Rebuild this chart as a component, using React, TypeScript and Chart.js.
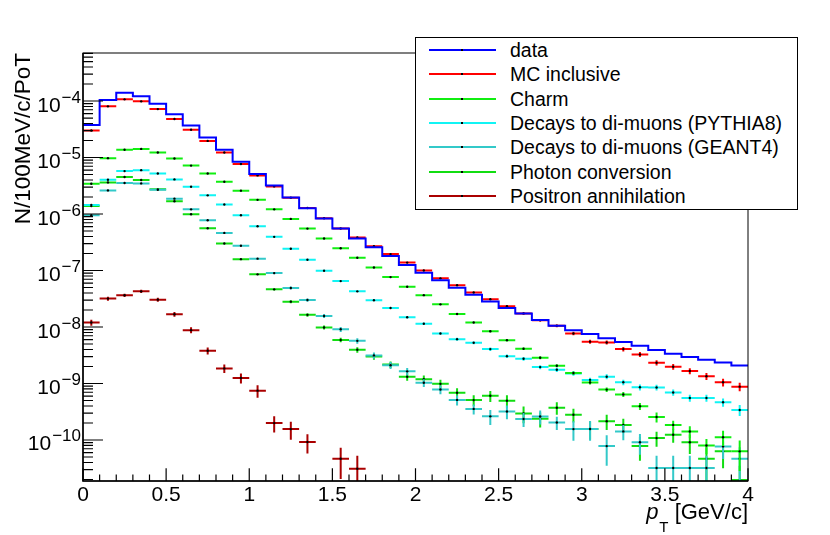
import { useEffect, useRef } from 'react';
import {
  Chart,
  LineController,
  LineElement,
  PointElement,
  LinearScale,
  LogarithmicScale,
} from 'chart.js';

Chart.register(LineController, LineElement, PointElement, LinearScale, LogarithmicScale);

const FONT = "'Liberation Sans', Arial, Helvetica, sans-serif";

// pT bin edges [GeV/c]
const binEdges = [
  0, 0.1, 0.2, 0.3, 0.4, 0.5, 0.6, 0.7, 0.8, 0.9, 1.0, 1.1, 1.2, 1.3, 1.4, 1.5, 1.6, 1.7, 1.8, 1.9, 2.0,
  2.1, 2.2, 2.3, 2.4, 2.5, 2.6, 2.7, 2.8, 2.9, 3.0, 3.1, 3.2, 3.3, 3.4, 3.5, 3.6, 3.7, 3.8, 3.9, 4.0,
];

const xTickLabels = ['0', '0.5', '1', '1.5', '2', '2.5', '3', '3.5', '4'];
const yTickExponents = [-10, -9, -8, -7, -6, -5, -4];
const Y_MIN = 1.88e-11;
const Y_MAX = 7.08e-4;

const dataHist = [
  3.77e-5, 1.04e-4, 1.4e-4, 1.22e-4, 8.97e-5, 5.82e-5, 3.67e-5, 2.26e-5, 1.37e-5, 8.4e-6,
  5.1e-6, 3.2e-6, 1.97e-6, 1.27e-6, 8.35e-7, 5.52e-7, 3.68e-7, 2.59e-7, 1.8e-7, 1.25e-7,
  9.1e-8, 6.7e-8, 4.93e-8, 3.73e-8, 2.83e-8, 2.18e-8, 1.74e-8, 1.33e-8, 1.055e-8, 8.8e-9,
  7.55e-9, 6.35e-9, 5.4e-9, 4.65e-9, 3.9e-9, 3.36e-9, 2.93e-9, 2.63e-9, 2.36e-9, 2.09e-9,
];

const mcInclusive = [
  3.0e-5, 8.05e-5, 1.07e-4, 9.87e-5, 7.2e-5, 4.8e-5, 3.1e-5, 1.97e-5, 1.23e-5, 7.66e-6,
  4.82e-6, 3.08e-6, 1.95e-6, 1.28e-6, 8.4e-7, 5.55e-7, 3.84e-7, 2.7e-7, 1.95e-7, 1.38e-7,
  1.0e-7, 7.26e-8, 5.5e-8, 4.08e-8, 3.09e-8, 2.33e-8, 1.74e-8, 1.32e-8, 1.05e-8, 7.67e-9,
  5.5e-9, 5.32e-9, 4.06e-9, 3.27e-9, 2.33e-9, 1.98e-9, 1.66e-9, 1.34e-9, 1.05e-9, 8.8e-10,
];
const mcRelErr = [
  0.01, 0.01, 0.01, 0.01, 0.01, 0.01, 0.01, 0.01, 0.01, 0.01,
  0.01, 0.01, 0.01, 0.02, 0.02, 0.02, 0.02, 0.02, 0.03, 0.03,
  0.03, 0.03, 0.04, 0.04, 0.04, 0.05, 0.05, 0.05, 0.06, 0.07,
  0.08, 0.08, 0.09, 0.1, 0.11, 0.12, 0.12, 0.14, 0.16, 0.17,
];

const charm = [
  3.43e-6, 9.75e-6, 1.37e-5, 1.42e-5, 1.23e-5, 9.6e-6, 7.2e-6, 5.22e-6, 3.73e-6, 2.59e-6,
  1.78e-6, 1.21e-6, 8.2e-7, 5.52e-7, 3.68e-7, 2.48e-7, 1.68e-7, 1.13e-7, 7.65e-8, 5.17e-8,
  3.66e-8, 2.52e-8, 1.7e-8, 1.2e-8, 8.43e-9, 5.85e-9, 4.11e-9, 2.85e-9, 2.06e-9, 1.53e-9,
  1.04e-9, 7.8e-10, 6.4e-10, 3.96e-10, 2.55e-10, 1.85e-10, 1.41e-10, 8.0e-11, 1.12e-10, 6.3e-11,
];
const charmRelErr = [
  0.02, 0.01, 0.01, 0.01, 0.01, 0.01, 0.01, 0.01, 0.01, 0.01,
  0.01, 0.01, 0.02, 0.02, 0.02, 0.02, 0.02, 0.03, 0.03, 0.03,
  0.03, 0.04, 0.04, 0.04, 0.05, 0.05, 0.05, 0.06, 0.06, 0.07,
  0.08, 0.09, 0.1, 0.14, 0.2, 0.18, 0.24, 0.3, 0.3, 0.55,
];

const decaysPythia = [
  1.45e-6, 4.05e-6, 5.75e-6, 5.98e-6, 5.22e-6, 4.1e-6, 3.04e-6, 2.14e-6, 1.47e-6, 9.5e-7,
  6.07e-7, 3.94e-7, 2.42e-7, 1.55e-7, 9.9e-8, 6.5e-8, 4.28e-8, 2.97e-8, 2.17e-8, 1.49e-8,
  1.14e-8, 7.67e-9, 6.09e-9, 5.25e-9, 4.06e-9, 3.05e-9, 2.74e-9, 1.95e-9, 1.75e-9, 1.51e-9,
  1.15e-9, 1.32e-9, 1.05e-9, 8.57e-10, 8.5e-10, 6.95e-10, 5.55e-10, 5.55e-10, 4.66e-10, 3.4e-10,
];
const pythiaRelErr = [
  0.02, 0.01, 0.01, 0.01, 0.01, 0.01, 0.01, 0.01, 0.01, 0.02,
  0.02, 0.02, 0.02, 0.03, 0.03, 0.03, 0.04, 0.04, 0.04, 0.05,
  0.05, 0.05, 0.06, 0.06, 0.07, 0.07, 0.08, 0.08, 0.09, 0.09,
  0.1, 0.1, 0.11, 0.12, 0.12, 0.13, 0.14, 0.14, 0.17, 0.22,
];

const decaysGeant = [
  9.5e-7, 2.62e-6, 3.53e-6, 3.48e-6, 2.69e-6, 1.87e-6, 1.21e-6, 7.75e-7, 4.63e-7, 2.74e-7,
  1.62e-7, 9.0e-8, 4.9e-8, 3.0e-8, 1.57e-8, 9.1e-9, 5.69e-9, 3.14e-9, 2.1e-9, 1.64e-9,
  1.03e-9, 7.85e-10, 5.12e-10, 3.55e-10, 2.62e-10, 3.2e-10, 2.35e-10, 2.6e-10, 2.04e-10, 1.56e-10,
  1.57e-10, 7.8e-11, 1.42e-10, 9.1e-11, 3.2e-11, 3.2e-11, 3.2e-11, 3.2e-11, 7.7e-11, 4.65e-11,
];
const geantRelErr = [
  0.02, 0.01, 0.01, 0.01, 0.01, 0.02, 0.02, 0.02, 0.03, 0.03,
  0.04, 0.05, 0.06, 0.07, 0.08, 0.1, 0.11, 0.13, 0.14, 0.15,
  0.16, 0.18, 0.2, 0.2, 0.3, 0.27, 0.28, 0.28, 0.26, 0.38,
  0.38, 0.55, 0.3, 0.4, 0.65, 0.65, 0.65, 0.65, 0.4, 0.6,
];

const photonConv = [
  1.38e-6, 3.63e-6, 4.51e-6, 3.99e-6, 2.73e-6, 1.68e-6, 9.9e-7, 5.6e-7, 3.0e-7, 1.59e-7,
  8.55e-8, 4.64e-8, 2.81e-8, 1.64e-8, 9.8e-9, 5.9e-9, 3.95e-9, 3.0e-9, 2.17e-9, 1.32e-9,
  1.19e-9, 9.85e-10, 6.85e-10, 5.08e-10, 6.06e-10, 4.94e-10, 2.94e-10, 2.37e-10, 3.72e-10, 2.8e-10,
  1.57e-10, 2.15e-10, 1.85e-10, 7.8e-11, 1.08e-10, 1.24e-10, 9.1e-11, 4.65e-11, 6.3e-11, 1.95e-11,
];
const photonRelErr = [
  0.02, 0.01, 0.01, 0.01, 0.01, 0.02, 0.02, 0.02, 0.03, 0.03,
  0.04, 0.05, 0.06, 0.07, 0.08, 0.09, 0.11, 0.12, 0.13, 0.15,
  0.17, 0.18, 0.2, 0.22, 0.22, 0.25, 0.33, 0.3, 0.25, 0.27,
  0.35, 0.3, 0.28, 0.45, 0.3, 0.28, 0.38, 0.6, 0.5, 0.8,
];

const positronAnn: (number | null)[] = [
  1.2e-8, 3.18e-8, 3.64e-8, 4.28e-8, 3.05e-8, 1.68e-8, 8.8e-9, 3.8e-9, 1.85e-9, 1.25e-9,
  7.47e-10, 1.99e-10, 1.56e-10, 9.2e-11, null, 4.65e-11, 3.1e-11, null, null, null,
  null, null, null, null, null, null, null, null, null, null,
  null, null, null, null, null, null, null, null, null, null,
];
const positronRelErr = [
  0.12, 0.08, 0.07, 0.07, 0.08, 0.1, 0.12, 0.14, 0.17, 0.2,
  0.25, 0.32, 0.35, 0.37, 0, 0.56, 0.7, 0, 0, 0,
  0, 0, 0, 0, 0, 0, 0, 0, 0, 0,
  0, 0, 0, 0, 0, 0, 0, 0, 0, 0,
];

interface Series {
  label: string;
  color: string;
  values: (number | null)[];
  relErr?: number[];
}

const series: Series[] = [
  { label: 'data', color: '#0000ff', values: dataHist },
  { label: 'MC inclusive', color: '#ff0000', values: mcInclusive, relErr: mcRelErr },
  { label: 'Charm', color: '#11ee11', values: charm, relErr: charmRelErr },
  { label: 'Decays to di-muons (PYTHIA8)', color: '#11f4f4', values: decaysPythia, relErr: pythiaRelErr },
  { label: 'Decays to di-muons (GEANT4)', color: '#33c9c9', values: decaysGeant, relErr: geantRelErr },
  { label: 'Photon conversion', color: '#11dd11', values: photonConv, relErr: photonRelErr },
  { label: 'Positron annihilation', color: '#aa0000', values: positronAnn, relErr: positronRelErr },
];

type Pt = { x: number; y: number | null; m?: boolean };

// histogram outline: flat top over each bin
function histSteps(values: (number | null)[]): Pt[] {
  return values.flatMap((v, i) => [
    { x: binEdges[i], y: v },
    { x: binEdges[i + 1], y: v },
  ]);
}

// ROOT "E" style: horizontal bar over the bin, vertical bar for the error, dot marker
function errorCrosses(values: (number | null)[], relErr: number[]): Pt[] {
  const pts: Pt[] = [];
  values.forEach((v, i) => {
    if (v === null) return;
    const lo = binEdges[i];
    const hi = binEdges[i + 1];
    const c = (lo + hi) / 2;
    const e = v * relErr[i];
    pts.push({ x: lo, y: v }, { x: c, y: v, m: true }, { x: hi, y: v }, { x: hi, y: null });
    if (e > 0) {
      pts.push({ x: c, y: Math.max(v - e, 1e-15) }, { x: c, y: v + e }, { x: c, y: null });
    }
  });
  return pts;
}

const rootAxes = {
  id: 'rootAxes',
  afterDatasetsDraw(chart: Chart) {
    const { ctx, chartArea: a } = chart;
    const xs = chart.scales.x;
    const ys = chart.scales.y;
    ctx.save();
    ctx.strokeStyle = '#000';
    ctx.fillStyle = '#000';

    ctx.lineWidth = 1;
    ctx.strokeRect(a.left, a.top, a.right - a.left, a.bottom - a.top);
    ctx.lineWidth = 1.5;
    ctx.beginPath();
    ctx.moveTo(a.left, a.top);
    ctx.lineTo(a.left, a.bottom);
    ctx.lineTo(a.right, a.bottom);
    ctx.stroke();

    // inward ticks
    ctx.lineWidth = 1.2;
    ctx.beginPath();
    for (const t of xs.ticks) {
      const px = xs.getPixelForValue(t.value);
      const len = t.label ? 12.8 : 6.4;
      ctx.moveTo(px, a.bottom);
      ctx.lineTo(px, a.bottom - len);
    }
    for (const t of ys.ticks) {
      const py = ys.getPixelForValue(t.value);
      const len = t.major ? 20 : 10;
      ctx.moveTo(a.left, py);
      ctx.lineTo(a.left + len, py);
    }
    ctx.stroke();

    // y labels as 10^n
    ctx.textAlign = 'right';
    ctx.textBaseline = 'alphabetic';
    for (const e of yTickExponents) {
      const py = ys.getPixelForValue(10 ** e);
      const exp = '\u2212' + Math.abs(e);
      ctx.font = `17px ${FONT}`;
      const w = ctx.measureText(exp).width;
      ctx.fillText(exp, a.left - 2, py + 1.5);
      ctx.font = `21px ${FONT}`;
      ctx.fillText('10', a.left - 3 - w, py + 10.5);
    }

    // x title: p_T [GeV/c], right aligned
    const rest = ' [GeV/c]';
    ctx.textAlign = 'left';
    ctx.font = `22px ${FONT}`;
    const wRest = ctx.measureText(rest).width;
    const xRest = a.right - wRest;
    ctx.fillText(rest, xRest, 519);
    ctx.font = `15px ${FONT}`;
    const wT = ctx.measureText('T').width;
    ctx.fillText('T', xRest - wT, 532);
    ctx.font = `italic 22px ${FONT}`;
    const wp = ctx.measureText('p').width;
    ctx.fillText('p', xRest - wT - wp - 1, 519);

    ctx.restore();
  },
};

export default function App() {
  const canvasRef = useRef<HTMLCanvasElement>(null);
  const chartRef = useRef<Chart | null>(null);

  useEffect(() => {
    if (!canvasRef.current) return;
    chartRef.current?.destroy();

    const datasets = series.map((s) => ({
      label: s.label,
      data: s.relErr ? errorCrosses(s.values, s.relErr) : histSteps(s.values),
      borderColor: s.color,
      backgroundColor: s.color,
      borderWidth: 2,
      spanGaps: false,
      clip: 0,
      pointRadius: (c: any) => (c.raw && c.raw.m ? 1.2 : 0),
      pointBackgroundColor: '#000',
      pointBorderWidth: 0,
      pointHoverRadius: 0,
    }));

    chartRef.current = new Chart(canvasRef.current, {
      type: 'line',
      data: { datasets },
      options: {
        responsive: false,
        animation: false,
        events: [],
        layout: { padding: { left: 0, top: 53, right: 82, bottom: 0 } },
        plugins: { legend: { display: false } },
        scales: {
          x: {
            type: 'linear',
            min: 0,
            max: 4,
            grid: { display: false, drawTicks: false },
            border: { display: false },
            ticks: {
              stepSize: 0.1,
              autoSkip: false,
              maxRotation: 0,
              padding: 2,
              color: '#000',
              font: { size: 21, family: FONT },
              callback: (v: number | string) => {
                const k = Math.round(Number(v) * 2);
                return Math.abs(Number(v) * 2 - k) < 1e-6 ? xTickLabels[k] : '';
              },
            },
            afterFit: (scale: any) => {
              scale.height = 54;
            },
          },
          y: {
            type: 'logarithmic',
            min: Y_MIN,
            max: Y_MAX,
            bounds: 'data',
            grid: { display: false, drawTicks: false },
            border: { display: false },
            ticks: { display: false },
            title: {
              display: true,
              text: 'N/100MeV/c/PoT',
              align: 'end',
              color: '#000',
              font: { size: 22.5, family: FONT },
              padding: { top: 10, bottom: 0 },
            },
            afterBuildTicks: (scale: any) => {
              const ticks: { value: number; major: boolean }[] = [];
              for (let e = -11; e <= -4; e++) {
                for (let m = 1; m <= 9; m++) {
                  const v = m * 10 ** e;
                  if (v >= Y_MIN && v <= Y_MAX) ticks.push({ value: v, major: m === 1 });
                }
              }
              scale.ticks = ticks;
            },
            afterFit: (scale: any) => {
              scale.width = 83;
            },
          },
        },
      } as any,
      plugins: [rootAxes],
    });

    return () => {
      chartRef.current?.destroy();
      chartRef.current = null;
    };
  }, []);

  return (
    <div
      style={{
        position: 'absolute',
        left: 0,
        top: 0,
        width: 830,
        height: 535,
        background: '#fff',
        fontFamily: FONT,
      }}
    >
      <canvas ref={canvasRef} width={830} height={535} style={{ position: 'absolute', left: 0, top: 0 }} />
      <div
        style={{
          position: 'absolute',
          left: 415,
          top: 37,
          width: 383,
          height: 173,
          boxSizing: 'border-box',
          border: '1px solid #000',
          background: '#fff',
        }}
      >
        {series.map((s, i) => (
          <div
            key={s.label}
            style={{ position: 'absolute', left: 0, right: 0, top: 11.7 + 24.4 * i - 12, height: 24 }}
          >
            <span
              style={{ position: 'absolute', left: 13, top: 11, width: 67, height: 2, background: s.color }}
            />
            <span
              style={{ position: 'absolute', left: 45, top: 11, width: 2, height: 2, background: '#000' }}
            />
            <span
              style={{
                position: 'absolute',
                left: 94,
                top: 0,
                lineHeight: '24px',
                fontSize: 19.5,
                whiteSpace: 'nowrap',
                color: '#000',
              }}
            >
              {s.label}
            </span>
          </div>
        ))}
      </div>
    </div>
  );
}
